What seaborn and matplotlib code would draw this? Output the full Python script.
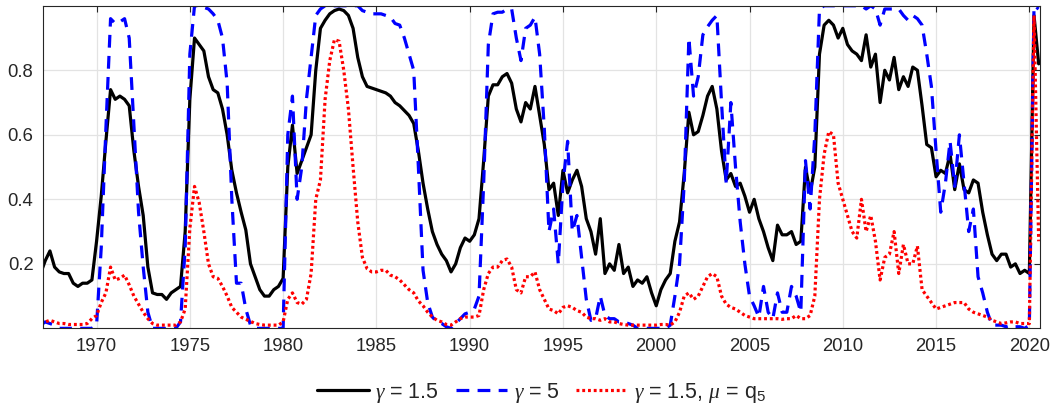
import numpy as np
import pandas as pd
import matplotlib
matplotlib.use("Agg")
import matplotlib.pyplot as plt
import seaborn as sns

# quarterly observations, 1967Q1 .. 2020Q3
start_year = 1967
n_obs = 215
dates = start_year + 0.25 * np.arange(n_obs)

# gamma = 1.5
prob_g15 = [
    0.17, 0.21, 0.24, 0.19,   # 1967
    0.175, 0.17, 0.17, 0.14,  # 1968
    0.13, 0.14, 0.14, 0.15,   # 1969
    0.27, 0.41, 0.58, 0.74,   # 1970
    0.71, 0.72, 0.71, 0.69,   # 1971
    0.55, 0.44, 0.35, 0.19,   # 1972
    0.11, 0.105, 0.105, 0.09, # 1973
    0.11, 0.12, 0.13, 0.30,   # 1974
    0.71, 0.90, 0.88, 0.86,   # 1975
    0.78, 0.74, 0.73, 0.68,   # 1976
    0.60, 0.49, 0.42, 0.36,   # 1977
    0.305, 0.20, 0.16, 0.12,  # 1978
    0.10, 0.10, 0.12, 0.13,   # 1979
    0.155, 0.50, 0.63, 0.48,  # 1980
    0.52, 0.56, 0.60, 0.80,   # 1981
    0.93, 0.955, 0.975, 0.985,  # 1982
    0.99, 0.985, 0.97, 0.93,  # 1983
    0.84, 0.78, 0.75, 0.745,  # 1984
    0.74, 0.735, 0.73, 0.72,  # 1985
    0.70, 0.69, 0.675, 0.66,  # 1986
    0.635, 0.55, 0.45, 0.37,  # 1987
    0.30, 0.26, 0.23, 0.21,   # 1988
    0.175, 0.20, 0.25, 0.28,  # 1989
    0.27, 0.29, 0.34, 0.52,   # 1990
    0.72, 0.755, 0.755, 0.78, # 1991
    0.79, 0.76, 0.68, 0.64,   # 1992
    0.70, 0.68, 0.75, 0.66,   # 1993
    0.57, 0.43, 0.45, 0.35,   # 1994
    0.49, 0.42, 0.46, 0.49,   # 1995
    0.44, 0.34, 0.30, 0.23,   # 1996
    0.34, 0.17, 0.20, 0.18,   # 1997
    0.26, 0.17, 0.19, 0.13,   # 1998
    0.15, 0.14, 0.16, 0.11,   # 1999
    0.07, 0.12, 0.15, 0.17,   # 2000
    0.27, 0.33, 0.48, 0.67,   # 2001
    0.60, 0.61, 0.66, 0.72,   # 2002
    0.75, 0.68, 0.55, 0.46,   # 2003
    0.48, 0.44, 0.45, 0.41,   # 2004
    0.36, 0.40, 0.34, 0.30,   # 2005
    0.25, 0.21, 0.32, 0.29,   # 2006
    0.29, 0.30, 0.26, 0.27,   # 2007
    0.50, 0.42, 0.50, 0.85,   # 2008
    0.94, 0.955, 0.94, 0.90,  # 2009
    0.93, 0.88, 0.86, 0.85,   # 2010
    0.83, 0.91, 0.81, 0.85,   # 2011
    0.70, 0.80, 0.77, 0.84,   # 2012
    0.74, 0.78, 0.75, 0.81,   # 2013
    0.80, 0.69, 0.57, 0.56,   # 2014
    0.47, 0.49, 0.48, 0.54,   # 2015
    0.43, 0.51, 0.43, 0.42,   # 2016
    0.46, 0.45, 0.36, 0.29,   # 2017
    0.23, 0.21, 0.23, 0.23,   # 2018
    0.19, 0.20, 0.17, 0.18,   # 2019
    0.17, 0.97, 0.82,         # 2020
]

# gamma = 5
prob_g5 = [
    0.01, 0.02, 0.015, 0.01,  # 1967
    0.0, 0.0, 0.0, 0.0,       # 1968
    0.0, 0.0, 0.0, 0.0,       # 1969
    0.01, 0.25, 0.62, 0.96,   # 1970
    0.945, 0.95, 0.96, 0.90,  # 1971
    0.63, 0.36, 0.19, 0.05,   # 1972
    0.0, 0.0, 0.0, 0.0,       # 1973
    0.0, 0.0, 0.02, 0.25,     # 1974
    0.85, 1.0, 1.0, 0.995,    # 1975
    0.99, 0.975, 0.955, 0.90, # 1976
    0.76, 0.40, 0.14, 0.14,   # 1977
    0.06, 0.01, 0.0, 0.0,     # 1978
    0.0, 0.0, 0.0, 0.0,       # 1979
    0.0, 0.60, 0.72, 0.40,    # 1980
    0.50, 0.71, 0.84, 0.97,   # 1981
    0.99, 1.0, 1.0, 1.0,      # 1982
    1.0, 1.0, 1.0, 1.0,       # 1983
    1.0, 0.985, 0.98, 0.975,  # 1984
    0.975, 0.975, 0.97, 0.965,  # 1985
    0.945, 0.94, 0.90, 0.85,  # 1986
    0.80, 0.50, 0.18, 0.08,   # 1987
    0.035, 0.02, 0.015, 0.005,  # 1988
    0.0, 0.015, 0.03, 0.045,  # 1989
    0.05, 0.06, 0.10, 0.45,   # 1990
    0.88, 0.975, 0.98, 0.98,  # 1991
    0.99, 0.99, 0.90, 0.83,   # 1992
    0.93, 0.94, 0.965, 0.85,  # 1993
    0.62, 0.30, 0.37, 0.20,   # 1994
    0.45, 0.58, 0.30, 0.35,   # 1995
    0.22, 0.09, 0.025, 0.03,  # 1996
    0.10, 0.04, 0.03, 0.03,   # 1997
    0.02, 0.02, 0.015, 0.01,  # 1998
    0.0, 0.0, 0.0, 0.0,       # 1999
    0.0, 0.0, 0.0, 0.01,      # 2000
    0.10, 0.20, 0.45, 0.90,   # 2001
    0.72, 0.78, 0.91, 0.935,  # 2002
    0.955, 0.97, 0.70, 0.45,  # 2003
    0.70, 0.50, 0.33, 0.20,   # 2004
    0.10, 0.07, 0.035, 0.13,  # 2005
    0.05, 0.03, 0.11, 0.05,   # 2006
    0.05, 0.13, 0.10, 0.05,   # 2007
    0.52, 0.37, 0.60, 0.99,   # 2008
    1.0, 1.0, 1.0, 1.0,       # 2009
    1.0, 1.0, 1.0, 1.0,       # 2010
    1.0, 0.99, 1.0, 0.99,     # 2011
    0.94, 0.99, 0.99, 0.99,   # 2012
    0.99, 0.97, 0.955, 0.97,  # 2013
    0.96, 0.94, 0.85, 0.75,   # 2014
    0.55, 0.36, 0.45, 0.58,   # 2015
    0.44, 0.60, 0.45, 0.30,   # 2016
    0.37, 0.16, 0.11, 0.05,   # 2017
    0.01, 0.01, 0.01, 0.005,  # 2018
    0.01, 0.005, 0.005, 0.0,  # 2019
    0.01, 1.0, 0.99,          # 2020
]

# gamma = 1.5, mu = q5
prob_g15_q5 = [
    0.015, 0.02, 0.025, 0.02,   # 1967
    0.015, 0.015, 0.012, 0.012, # 1968
    0.012, 0.012, 0.015, 0.03,  # 1969
    0.04, 0.08, 0.11, 0.19,     # 1970
    0.15, 0.155, 0.165, 0.135,  # 1971
    0.10, 0.075, 0.05, 0.03,    # 1972
    0.015, 0.01, 0.01, 0.01,    # 1973
    0.01, 0.01, 0.02, 0.06,     # 1974
    0.31, 0.44, 0.39, 0.30,     # 1975
    0.20, 0.16, 0.155, 0.13,    # 1976
    0.10, 0.065, 0.05, 0.035,   # 1977
    0.028, 0.022, 0.015, 0.012, # 1978
    0.01, 0.01, 0.01, 0.01,     # 1979
    0.02, 0.09, 0.11, 0.08,     # 1980
    0.075, 0.09, 0.17, 0.40,    # 1981
    0.46, 0.71, 0.83, 0.895,    # 1982
    0.89, 0.80, 0.68, 0.50,     # 1983
    0.33, 0.22, 0.185, 0.175,   # 1984
    0.175, 0.18, 0.18, 0.165,   # 1985
    0.16, 0.15, 0.135, 0.12,    # 1986
    0.11, 0.085, 0.07, 0.05,    # 1987
    0.035, 0.025, 0.02, 0.012,  # 1988
    0.01, 0.02, 0.03, 0.035,    # 1989
    0.035, 0.035, 0.04, 0.12,   # 1990
    0.17, 0.19, 0.19, 0.21,     # 1991
    0.215, 0.19, 0.12, 0.11,    # 1992
    0.16, 0.16, 0.175, 0.12,    # 1993
    0.09, 0.06, 0.055, 0.045,   # 1994
    0.065, 0.07, 0.065, 0.055,  # 1995
    0.05, 0.035, 0.03, 0.03,    # 1996
    0.025, 0.03, 0.02, 0.02,    # 1997
    0.015, 0.012, 0.01, 0.01,   # 1998
    0.01, 0.01, 0.01, 0.01,     # 1999
    0.01, 0.012, 0.012, 0.01,   # 2000
    0.02, 0.05, 0.10, 0.11,     # 2001
    0.09, 0.10, 0.13, 0.16,     # 2002
    0.17, 0.16, 0.10, 0.075,    # 2003
    0.065, 0.06, 0.05, 0.04,    # 2004
    0.035, 0.03, 0.03, 0.03,    # 2005
    0.03, 0.03, 0.03, 0.028,    # 2006
    0.03, 0.03, 0.04, 0.03,     # 2007
    0.03, 0.04, 0.10, 0.40,     # 2008
    0.54, 0.61, 0.60, 0.45,     # 2009
    0.40, 0.35, 0.30, 0.28,     # 2010
    0.40, 0.30, 0.35, 0.27,     # 2011
    0.15, 0.22, 0.23, 0.30,     # 2012
    0.17, 0.26, 0.20, 0.20,     # 2013
    0.255, 0.12, 0.10, 0.08,    # 2014
    0.06, 0.065, 0.07, 0.075,   # 2015
    0.08, 0.08, 0.08, 0.06,     # 2016
    0.05, 0.045, 0.04, 0.035,   # 2017
    0.025, 0.02, 0.015, 0.017,  # 2018
    0.02, 0.02, 0.015, 0.015,   # 2019
    0.015, 0.97, 0.27,          # 2020
]

year_ticks = list(range(1970, 2021, 5))
prob_ticks = [0.2, 0.4, 0.6, 0.8]
labels = [r"$\gamma$ = 1.5", r"$\gamma$ = 5", r"$\gamma$ = 1.5, $\mu$ = q$_5$"]

df = pd.DataFrame({"date": dates, "g15": prob_g15, "g5": prob_g5, "g15q5": prob_g15_q5})

sns.set_style("whitegrid")
plt.rcParams["font.family"] = ["Liberation Sans", "DejaVu Sans"]
plt.rcParams["mathtext.fontset"] = "custom"
plt.rcParams["mathtext.rm"] = "Liberation Sans"
plt.rcParams["mathtext.it"] = "Liberation Serif:italic"

fig, ax = plt.subplots(figsize=(10.54, 4.12), dpi=100)
fig.subplots_adjust(left=0.041, right=0.9867, bottom=0.203, top=0.986)

sns.lineplot(data=df, x="date", y="g15", ax=ax, color="black", lw=2.3,
             label=labels[0])
sns.lineplot(data=df, x="date", y="g5", ax=ax, color="#0000ff", lw=2.3,
             linestyle=(0, (4, 2.6)), label=labels[1])
sns.lineplot(data=df, x="date", y="g15q5", ax=ax, color="#ff0000", lw=2.3,
             linestyle=(0, (0.9, 0.9)), label=labels[2])

ax.set_xlim(1967.14, 2020.57)
ax.set_ylim(0, 1)
ax.set_xticks(year_ticks)
ax.set_yticks(prob_ticks)
ax.set_yticklabels([f"{v:.1f}" for v in prob_ticks])
ax.set_xlabel("")
ax.set_ylabel("")

ax.grid(True, color="#e3e3e3", lw=0.9)
for s in ax.spines.values():
    s.set_color("#262626")
    s.set_linewidth(0.8)
ax.tick_params(axis="both", direction="in", length=4, width=0.8,
               colors="#262626", labelsize=13.3, top=True, right=True,
               pad=7)

ax.legend(loc="center", bbox_to_anchor=(0.5, -0.2), ncol=3, frameon=False,
          fontsize=15.5, handlelength=2.4, handletextpad=0.3,
          columnspacing=0.75)

plt.savefig("out.png", dpi=100)
